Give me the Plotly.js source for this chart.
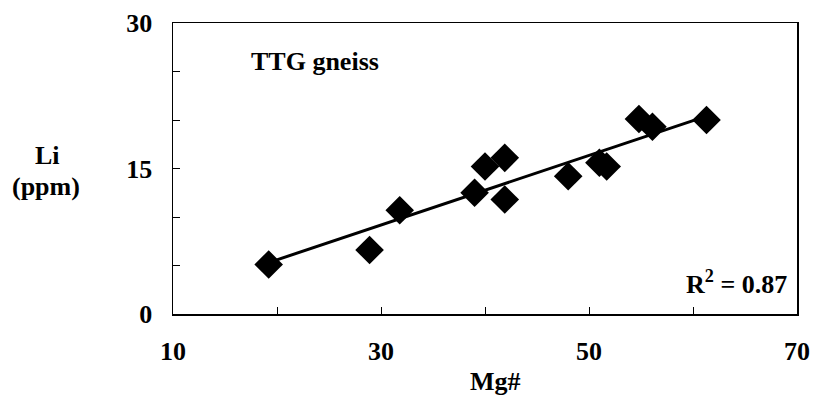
<!DOCTYPE html>
<html><head><meta charset="utf-8">
<script src="https://cdn.plot.ly/plotly-3.0.1.min.js"></script>
<style>body{margin:0;background:#fff}#c{width:818px;height:399px}
#c svg text, #c svg tspan{font-family:'Liberation Serif','Times New Roman',serif !important}</style>
</head><body><div id="c"></div>
<script>
const mgNumber = [19.2, 28.9, 31.8, 39.0, 40.0, 41.9, 41.9, 48.0, 51.0, 51.7, 54.8, 56.1, 61.3];
const liPpm    = [5.1, 6.6, 10.7, 12.5, 15.2, 16.1, 11.8, 14.2, 15.6, 15.2, 20.1, 19.3, 20.0];
const trendX = [19.2, 61.3];
const trendY = [5.3, 20.4];
const xTickVals = [10, 30, 50, 70];
const yTickVals = [0, 15, 30];
const FAM = 'Liberation Serif';
const plotL = 173, plotW = 624, plotB = 314, plotH = 291;
const toPaperX = x => (x - plotL) / plotW;
const toPaperY = y => (plotB - y) / plotH;
const mkFont = () => ({family: FAM, size: 26, color: '#000'});
const boldLbl = t => '<b>' + t + '</b>';
const ann = (x, y, text, xanchor) => ({xref: 'paper', yref: 'paper', x: toPaperX(x), y: toPaperY(y), text: text, showarrow: false, xanchor: xanchor || 'center', yanchor: 'middle', font: mkFont()});

Plotly.newPlot('c', [
  {x: trendX, y: trendY, mode: 'lines', line: {color: '#000', width: 3}, hoverinfo: 'skip'},
  {x: mgNumber, y: liPpm, mode: 'markers', marker: {symbol: 'diamond', size: 22, color: '#000'}}
], {
  width: 818, height: 399,
  margin: {l: 173, r: 21, t: 23, b: 85},
  showlegend: false,
  xaxis: {
    range: [10, 70], showgrid: false, zeroline: false,
    showline: true, mirror: true, linecolor: '#000', linewidth: 1.5,
    tickvals: xTickVals, ticktext: xTickVals.map(v => boldLbl(v)),
    ticks: 'inside', ticklen: 7, tickcolor: '#000', tickwidth: 1,
    ticklabelstandoff: 13,
    minor: {dtick: 10, tick0: 10, ticks: 'inside', ticklen: 7, tickcolor: '#000', tickwidth: 1},
    tickfont: mkFont()
  },
  yaxis: {
    range: [0, 30], showgrid: false, zeroline: false,
    showline: true, mirror: true, linecolor: '#000', linewidth: 1.5,
    tickvals: yTickVals, ticktext: yTickVals.map(v => boldLbl(v)),
    ticks: 'inside', ticklen: 7, tickcolor: '#000', tickwidth: 1,
    ticklabelstandoff: 14,
    minor: {dtick: 5, tick0: 0, ticks: 'inside', ticklen: 7, tickcolor: '#000', tickwidth: 1},
    tickfont: mkFont()
  },
  annotations: [
    ann(47, 155, '<b>Li</b>'),
    ann(46, 186, '<b>(ppm)</b>'),
    ann(495, 381, '<b>Mg#</b>'),
    ann(315, 62, '<b>TTG gneiss</b>'),
    ann(789, 282, '<b>R<sup>2</sup> = 0.87</b>', 'right')
  ]
}, {displayModeBar: false, staticPlot: true}).then(gd => {
  gd.querySelectorAll('text, tspan').forEach(t => t.style.setProperty('font-family', "'Liberation Serif', 'Times New Roman', serif", 'important'));
});
</script></body></html>
